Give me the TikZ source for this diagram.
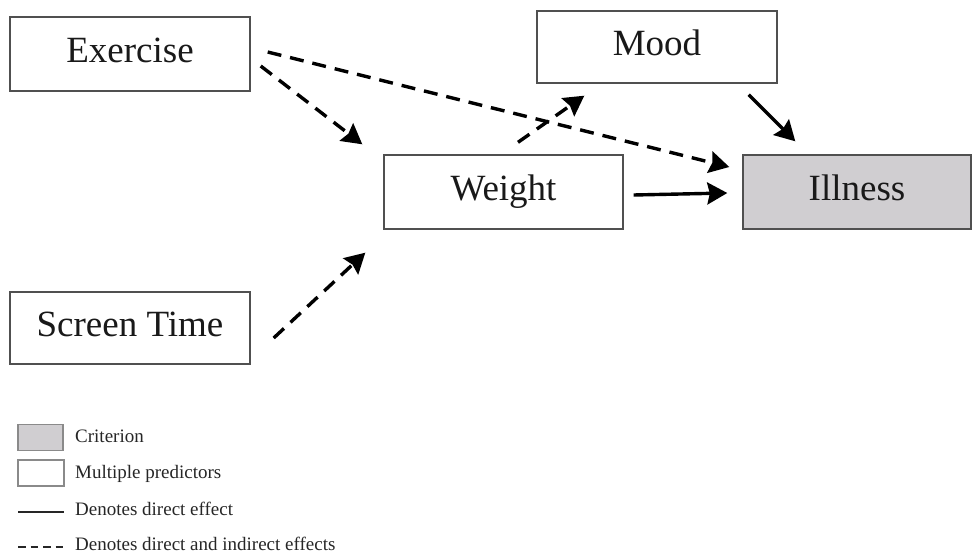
\documentclass[tikz,border=0pt]{standalone}
\usepackage{fontspec}
\setmainfont{Liberation Serif}
\usetikzlibrary{arrows.meta,calc}

\definecolor{boxline}{HTML}{505050}
\definecolor{critfill}{HTML}{D0CED1}
\definecolor{legline}{HTML}{8A8A8A}

\tikzset{
  varbox/.style={draw=boxline, line width=1.4pt, fill=white, inner sep=0pt,
    text=black!90, font=\fontsize{37}{40}\selectfont, text height=25pt, text depth=8pt},
  critbox/.style={varbox, fill=critfill},
  effect/.style={line width=3.4pt, -{Stealth[length=20pt,width=22pt,inset=2.5pt]}},
  indirect/.style={effect, dash pattern=on 14pt off 9pt},
  legbox/.style={draw=legline, line width=1.2pt, inner sep=0pt,
    minimum width=45pt, minimum height=26pt},
  legtext/.style={anchor=base west, inner sep=0pt, text=black!85,
    font=\fontsize{19}{22}\selectfont},
  legline/.style={line width=1.6pt, black!85},
}

\begin{document}
\begin{tikzpicture}[x=1pt, y=-1pt]
  \useasboundingbox (0,0) rectangle (972,556);

  % variables of the model
  \node[varbox, minimum width=240pt, minimum height=74pt] (ex) at (130,54) {Exercise};
  \node[varbox, minimum width=240pt, minimum height=72pt] (mood) at (657,47) {Mood};
  \node[varbox, minimum width=239pt, minimum height=74pt] (wt) at (503.5,192) {Weight};
  \node[critbox, minimum width=228pt, minimum height=74pt] (ill) at (857,192) {Illness};
  \node[varbox, minimum width=240pt, minimum height=72pt] (scr) at (130,328) {Screen Time};

  % free ends of the paths, placed next to their boxes
  \coordinate (exA) at ($(ex.east)+(17,-2)$);
  \coordinate (exB) at ($(ex.east)+(10,12)$);
  \coordinate (wtIn1) at ($(wt.north west)+(-21,-10)$);
  \coordinate (wtIn2) at ($(wt.south west)+(-18,23)$);
  \coordinate (scrOut) at ($(scr.east)+(23,10)$);
  \coordinate (wtUp) at ($(wt.north)+(14.5,-12)$);
  \coordinate (moodIn) at ($(mood.south west)+(48,12)$);
  \coordinate (moodOut) at ($(mood.south east)+(-29,11)$);
  \coordinate (illTop) at ($(ill.north west)+(53,-13)$);
  \coordinate (illW1) at ($(ill.west)+(-13,-25)$);
  \coordinate (wtOut) at ($(wt.east)+(10,3)$);
  \coordinate (illW2) at ($(ill.west)+(-15,1)$);

  % paths
  \draw[indirect] (exB) -- (wtIn1);
  \draw[indirect] (exA) -- (illW1);
  \draw[indirect] (scrOut) -- (wtIn2);
  \draw[indirect] (wtUp) -- (moodIn);
  \draw[effect] (moodOut) -- (illTop);
  \draw[effect] (wtOut) -- (illW2);

  % legend
  \node[legbox, fill=critfill] (lgC) at (40.5,437.5) {};
  \node[legbox, fill=white, minimum width=46pt] (lgP) at (41,473) {};
  \node[legtext] (tC) at (75,442) {Criterion};
  \node[legtext] (tP) at (75,478) {Multiple predictors};
  \coordinate (ls1) at (18,512);
  \coordinate (ls2) at (64,512);
  \draw[legline] (ls1) -- (ls2);
  \node[legtext] (tD) at (75,515) {Denotes direct effect};
  \coordinate (ld1) at (18,547);
  \coordinate (ld2) at (64,547);
  \draw[legline, dash pattern=on 7.5pt off 5pt] (ld1) -- (ld2);
  \node[legtext] (tI) at (75,550) {Denotes direct and indirect effects};
\end{tikzpicture}
\end{document}
